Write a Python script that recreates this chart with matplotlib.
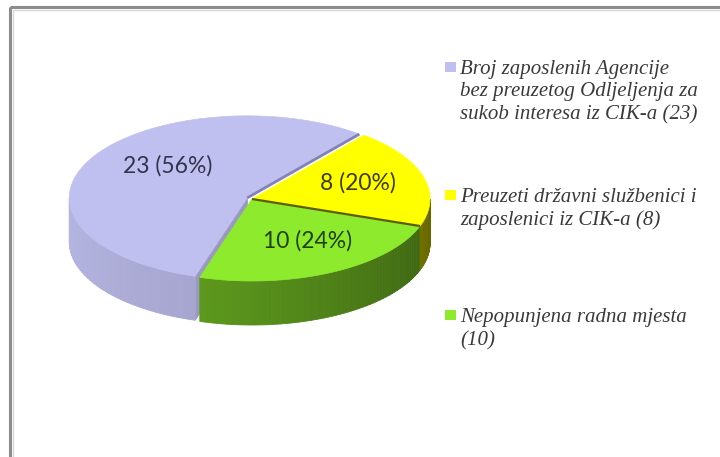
import numpy as np
import matplotlib
matplotlib.use("Agg")
import matplotlib.pyplot as plt
from matplotlib.patches import Polygon, Rectangle
from matplotlib.colors import to_rgb

# ---- data ----
categories = [
    ["Broj zaposlenih Agencije", "bez preuzetog Odljeljenja za", "sukob interesa iz CIK-a (23)"],
    ["Preuzeti državni službenici i", "zaposlenici iz CIK-a (8)"],
    ["Nepopunjena radna mjesta", "(10)"],
]
values = [23, 8, 10]
pct_labels = ["23 (56%)", "8 (20%)", "10 (24%)"]
top_colors = ["#C0C0F0", "#FFFF00", "#8EEA2C"]
edge_colors = ["#8282B4", "#5E5E00", "#4A7A10"]
text_colors = ["#34344E", "#3C3C00", "#22400A"]
explode = [0.03, 0.0, 0.0]

# ---- geometry (pixel space) ----
W, H = 720, 457
fig = plt.figure(figsize=(W / 100, H / 100), dpi=100)
ax = fig.add_axes([0, 0, 1, 1])
ax.set_xlim(0, W)
ax.set_ylim(H, 0)
ax.axis("off")

# chart frame
ax.add_patch(Rectangle((10, 7), 730, 470, fill=False, ec="#8C8C8C", lw=2.2, zorder=0))
ax.add_patch(Rectangle((12.5, 9.5), 730, 470, fill=False, ec="#D8D8D8", lw=1.0, zorder=0))

cx, cy, rx, ry, depth = 252, 199, 178, 82, 44

# angles: blue counterclockwise from 51 deg, then green, then yellow
order = [0, 2, 1]
start = 51.0
total = float(sum(values))
spans = {}
a = start
for i in order:
    sweep = values[i] / total * 360.0
    spans[i] = (a, a + sweep)
    a += sweep

# side shading: factor = base - slope * (angle - 180)
side_base = [0.95, 0.83, 0.83]
side_slope = [0.0012, 0.0024, 0.0024]


def offset(i):
    a0, a1 = spans[i]
    mid = np.deg2rad((a0 + a1) / 2)
    e = explode[i]
    return e * rx * np.cos(mid), -e * ry * np.sin(mid)


def rim(i, t):
    ox, oy = offset(i)
    return cx + ox + rx * np.cos(t), cy + oy - ry * np.sin(t)


def shade(color, f):
    r, g, b = to_rgb(color)
    return (min(r * f, 1), min(g * f, 1), min(b * f, 1))


def side(i, zo):
    a0, a1 = spans[i]
    ts = np.linspace(a0, a1, 400)
    ts_mod = np.mod(ts, 360)
    vis = (ts_mod > 180) & (ts_mod < 360)
    idx = np.where(vis)[0]
    if len(idx) < 2:
        return
    ts = ts[idx]
    n_seg = 60
    edges = np.linspace(ts[0], ts[-1], n_seg + 1)
    for k in range(n_seg):
        t = np.deg2rad(np.linspace(edges[k], edges[k + 1], 6))
        xs, ys = rim(i, t)
        mid = np.mod((edges[k] + edges[k + 1]) / 2, 360)
        f = side_base[i] - side_slope[i] * (mid - 180)
        poly = np.column_stack([np.r_[xs, xs[::-1]], np.r_[ys, ys[::-1] + depth]])
        ax.add_patch(Polygon(poly, closed=True, fc=shade(top_colors[i], f),
                             ec=shade(top_colors[i], f), lw=0.6, zorder=zo))


def cut_face(i, ang, zo):
    ox, oy = offset(i)
    t = np.deg2rad(ang)
    x0, y0 = cx + ox, cy + oy
    x1, y1 = rim(i, t)
    poly = [(x0, y0), (x1, y1), (x1, y1 + depth), (x0, y0 + depth)]
    ax.add_patch(Polygon(poly, closed=True, fc=shade(top_colors[i], 0.8),
                         ec=shade(top_colors[i], 0.8), lw=0.8, zorder=zo))


def top(i, zo):
    a0, a1 = spans[i]
    t = np.deg2rad(np.linspace(a0, a1, 300))
    xs, ys = rim(i, t)
    ox, oy = offset(i)
    poly = np.column_stack([np.r_[cx + ox, xs], np.r_[cy + oy, ys]])
    ax.add_patch(Polygon(poly, closed=True, fc=top_colors[i], ec=top_colors[i],
                         lw=0.5, zorder=zo))


def radial(i, ang, color, lw, zo):
    ox, oy = offset(i)
    x1, y1 = rim(i, np.deg2rad(ang))
    ax.plot([cx + ox, x1], [cy + oy, y1], color=color, lw=lw,
            solid_capstyle="butt", zorder=zo)


cut_face(0, spans[0][1], 1)
side(0, 2)
side(2, 2)
side(1, 2)
top(0, 3)
top(2, 3)
top(1, 3)
radial(0, spans[0][0], edge_colors[0], 2.0, 4)   # blue / yellow boundary
radial(1, spans[1][0], edge_colors[1], 1.6, 4)   # green / yellow boundary

# slice labels
label_pos = [(168, 166), (358, 183), (308, 241)]
for i in range(3):
    ax.text(*label_pos[i], pct_labels[i], ha="center", va="center",
            fontsize=16.5, family="Lato", color=text_colors[i], zorder=5)

# legend
leg_x_marker, leg_x_text = 445, 460
leg_line_y = [[67, 89, 112], [195, 218], [315, 338]]
for i in range(3):
    y0 = leg_line_y[i][0]
    ax.add_patch(Rectangle((leg_x_marker, y0 - 5), 11, 10, fc=top_colors[i],
                           ec="none", zorder=5))
    for line, y in zip(categories[i], leg_line_y[i]):
        ax.text(leg_x_text, y, line, ha="left", va="center_baseline",
                fontsize=15, family="Liberation Serif", style="italic",
                color="#3A3A3A", zorder=5)

fig.savefig("out.png", dpi=100)
